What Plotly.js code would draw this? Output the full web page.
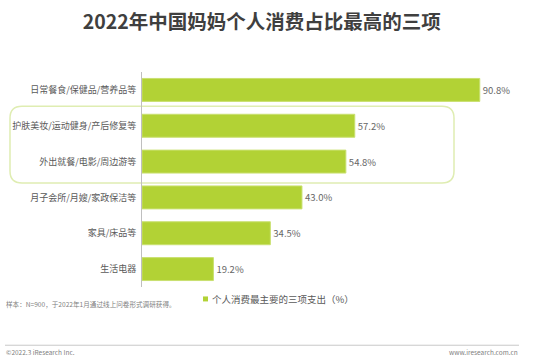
<!DOCTYPE html>
<html><head><meta charset="utf-8">
<script src="https://cdn.plot.ly/plotly-3.0.1.min.js"></script>
<style>html,body{margin:0;padding:0;background:#fff;}#chart{width:550px;height:363px;}</style>
</head><body><div id="chart"></div>
<script>
const categories = ["日常餐食/保健品/营养品等","护肤美妆/运动健身/产后修复等","外出就餐/电影/周边游等","月子会所/月嫂/家政保洁等","家具/床品等","生活电器"];
const values = [90.8, 57.2, 54.8, 43.0, 34.5, 19.2];
const seriesName = "个人消费最主要的三项支出（%）";
const titleText = "2022年中国妈妈个人消费占比最高的三项";
const noteText = "样本：N=900，于2022年1月通过线上问卷形式调研获得。";
const copyrightText = "©2022.3 iResearch Inc.";
const siteText = "www.iresearch.com.cn";

const font = '"Noto Sans CJK SC", "Noto Sans", sans-serif';
const barColor = '#b2d235';
const L = 142, W = 372, T = 71.5, H = 216;
const px = x => (x - L) / W;
const py = y => 1 - (y - T) / H;

// rounded rectangle in paper coords
function rr(x0, y0, x1, y1, r) {
  const X = v => px(v).toFixed(5), Y = v => py(v).toFixed(5);
  return `M${X(x0 + r)},${Y(y0)} L${X(x1 - r)},${Y(y0)} Q${X(x1)},${Y(y0)} ${X(x1)},${Y(y0 + r)} ` +
    `L${X(x1)},${Y(y1 - r)} Q${X(x1)},${Y(y1)} ${X(x1 - r)},${Y(y1)} L${X(x0 + r)},${Y(y1)} ` +
    `Q${X(x0)},${Y(y1)} ${X(x0)},${Y(y1 - r)} L${X(x0)},${Y(y0 + r)} Q${X(x0)},${Y(y0)} ${X(x0 + r)},${Y(y0)} Z`;
}

const trace = {
  type: 'bar', orientation: 'h',
  y: categories, x: values,
  name: seriesName,
  marker: {color: barColor, line: {color: '#c9e070', width: 1}},
  text: values.map(v => v.toFixed(1) + '%'),
  textposition: 'outside', cliponaxis: false,
  textfont: {family: font, size: 9.5, color: '#666666'},
  hoverinfo: 'none', showlegend: false
};

const layout = {
  width: 550, height: 363,
  margin: {l: L, r: 550 - L - W, t: T, b: 363 - T - H},
  paper_bgcolor: '#fff', plot_bgcolor: '#fff',
  font: {family: font},
  title: {text: '<b>' + titleText + '</b>', font: {family: font, size: 19.5, color: '#3f3f3f'}, x: 0.476, xanchor: 'center', y: 0.94, yanchor: 'middle'},
  bargap: 0.36,
  xaxis: {range: [0, 100], visible: false, fixedrange: true},
  yaxis: {autorange: 'reversed', showline: true, linecolor: '#bfbfbf', linewidth: 1, ticks: '', showgrid: false, zeroline: false,
    tickfont: {family: font, size: 9, color: '#595959'}, ticklabelstandoff: 3},
  showlegend: false,
  shapes: [
    {type: 'path', xref: 'paper', yref: 'paper', path: rr(10, 106, 454, 183, 12), line: {color: '#dfedb2', width: 1.5}, fillcolor: 'rgba(0,0,0,0)', layer: 'below'},
    {type: 'line', xref: 'paper', yref: 'paper', x0: px(5), x1: px(519), y0: py(346), y1: py(346), line: {color: '#c8c8c8', width: 1}},
    {type: 'rect', xref: 'paper', yref: 'paper', x0: px(203), x1: px(208), y0: py(297), y1: py(302), fillcolor: barColor, line: {width: 0}}
  ],
  annotations: [
    {text: seriesName, xref: 'paper', yref: 'paper', x: px(210), y: py(299.5), xanchor: 'left', yanchor: 'middle', showarrow: false, font: {family: font, size: 9.5, color: '#595959'}},
    {text: noteText, xref: 'paper', yref: 'paper', x: px(4), y: py(305), xanchor: 'left', yanchor: 'middle', showarrow: false, font: {family: font, size: 6.6, color: '#808080'}},
    {text: copyrightText, xref: 'paper', yref: 'paper', x: px(4), y: py(353), xanchor: 'left', yanchor: 'middle', showarrow: false, font: {family: font, size: 6.5, color: '#808080'}},
    {text: siteText, xref: 'paper', yref: 'paper', x: px(520), y: py(353), xanchor: 'right', yanchor: 'middle', showarrow: false, font: {family: font, size: 6.5, color: '#808080'}}
  ]
};

Plotly.newPlot('chart', [trace], layout, {staticPlot: true, displayModeBar: false});
</script></body></html>
